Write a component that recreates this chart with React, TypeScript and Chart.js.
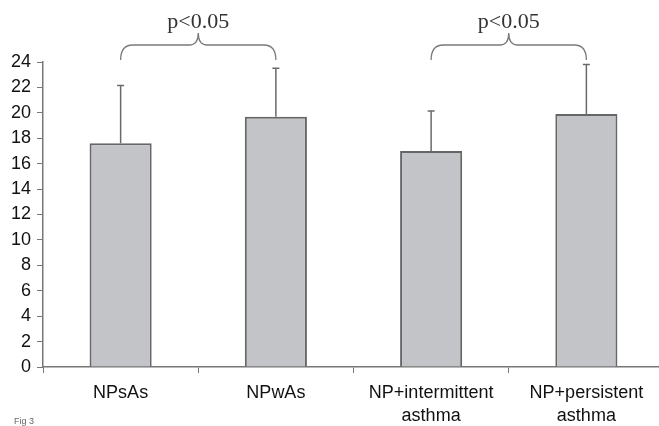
import React, { useEffect, useRef } from "react";
import { Chart, registerables } from "chart.js";

Chart.register(...registerables);

const categories: string[][] = [["NPsAs"], ["NPwAs"], ["NP+intermittent", "asthma"], ["NP+persistent", "asthma"]];
const means: number[] = [17.6, 19.7, 17.0, 19.9];
const errorTops: number[] = [22.15, 23.5, 20.15, 23.8];
const yMin = 0;
const yMax = 24;
const yStep = 2;
const comparisons: [number, number][] = [[0, 1], [2, 3]];
const comparisonLabel = "p<0.05";
const figureLabel = "Fig 3";

const errorBarPlugin = {
  id: "errorBars",
  afterDatasetsDraw(chart: any) {
    const meta = chart.getDatasetMeta(0);
    const ys = chart.scales.y;
    const ctx = chart.ctx;
    ctx.save();
    ctx.strokeStyle = "#6a6a6a";
    ctx.lineWidth = 1.5;
    meta.data.forEach((el: any, i: number) => {
      const x = el.x;
      const yTop = ys.getPixelForValue(errorTops[i]);
      ctx.beginPath();
      ctx.moveTo(x, el.y);
      ctx.lineTo(x, yTop);
      ctx.moveTo(x - 3.5, yTop);
      ctx.lineTo(x + 3.5, yTop);
      ctx.stroke();
    });
    ctx.restore();
  },
};

const bracePlugin = {
  id: "braces",
  afterDraw(chart: any) {
    const meta = chart.getDatasetMeta(0);
    const ctx = chart.ctx;
    const top = chart.chartArea.top;
    const yEnd = top - 2;
    const yFlat = top - 17;
    const yPeak = top - 29;
    ctx.save();
    ctx.strokeStyle = "#7a7a7a";
    ctx.lineWidth = 1.3;
    comparisons.forEach(([a, b]) => {
      const x1 = meta.data[a].x;
      const x2 = meta.data[b].x;
      const xm = (x1 + x2) / 2;
      const r = 12;
      const rm = 9;
      ctx.beginPath();
      ctx.moveTo(x1, yEnd);
      ctx.quadraticCurveTo(x1, yFlat, x1 + r, yFlat);
      ctx.lineTo(xm - rm, yFlat);
      ctx.quadraticCurveTo(xm, yFlat, xm, yPeak);
      ctx.quadraticCurveTo(xm, yFlat, xm + rm, yFlat);
      ctx.lineTo(x2 - r, yFlat);
      ctx.quadraticCurveTo(x2, yFlat, x2, yEnd);
      ctx.stroke();
      ctx.fillStyle = "#333";
      ctx.font = "22px 'Liberation Serif', 'Times New Roman', serif";
      ctx.textAlign = "center";
      ctx.textBaseline = "alphabetic";
      ctx.fillText(comparisonLabel, xm, top - 34);
    });
    ctx.fillStyle = "#666";
    ctx.font = "9px 'Liberation Sans', Arial, sans-serif";
    ctx.textAlign = "left";
    ctx.fillText(figureLabel, 14, 424);
    ctx.restore();
  },
};

export default function App() {
  const ref = useRef<HTMLCanvasElement | null>(null);
  useEffect(() => {
    if (!ref.current) return;
    const chart = new Chart(ref.current, {
      type: "bar",
      data: {
        labels: categories,
        datasets: [
          {
            data: means,
            backgroundColor: "#c2c4c8",
            borderColor: "#666",
            borderWidth: 2,
            barPercentage: 0.4,
            categoryPercentage: 1,
          },
        ],
      },
      options: {
        responsive: false,
        animation: false,
        layout: { padding: { top: 62, right: 0, left: 0, bottom: 0 } },
        plugins: { legend: { display: false }, tooltip: { enabled: false } },
        scales: {
          x: {
            grid: { display: true, drawOnChartArea: false, drawTicks: true, tickLength: 6, color: "#777", offset: true },
            border: { display: true, color: "#777", width: 1.5 },
            ticks: {
              color: "#111",
              font: { family: "'Liberation Sans', Arial, sans-serif", size: 18, lineHeight: 1.25 },
              padding: 9,
              maxRotation: 0,
              autoSkip: false,
            },
            afterFit(scale: any) {
              scale.height = 59;
            },
          },
          y: {
            min: yMin,
            max: yMax,
            grid: { display: true, drawOnChartArea: false, drawTicks: true, tickLength: 6, color: "#777" },
            border: { display: true, color: "#777", width: 1.5 },
            ticks: {
              stepSize: yStep,
              color: "#111",
              font: { family: "'Liberation Sans', Arial, sans-serif", size: 18 },
              padding: 6,
            },
            afterFit(scale: any) {
              scale.width = 43;
            },
          },
        },
      },
      plugins: [errorBarPlugin, bracePlugin],
    });
    return () => chart.destroy();
  }, []);
  return (
    <div style={{ position: "fixed", left: 0, top: 0, width: 659, height: 426, overflow: "hidden", background: "#fff" }}>
      <canvas ref={ref} width={664} height={426} style={{ display: "block" }} />
    </div>
  );
}
